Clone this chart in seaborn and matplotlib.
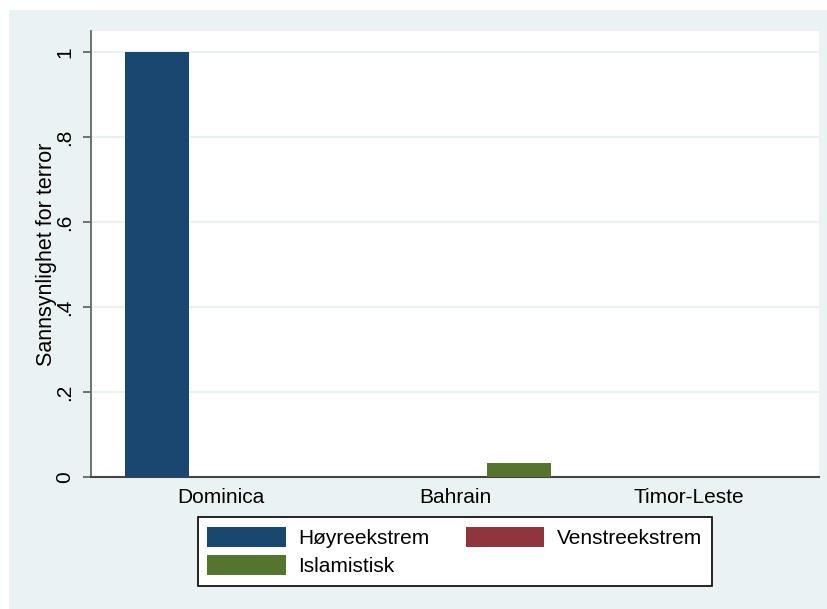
import matplotlib
matplotlib.use("Agg")
import matplotlib.pyplot as plt
from matplotlib.patches import Rectangle
import pandas as pd
import seaborn as sns

# Predicted probability of terror by country and type
countries = ["Dominica", "Bahrain", "Timor-Leste"]
types = ["Høyreekstrem", "Venstreekstrem", "Islamistisk"]
hoyre = [1.0, 0.0, 0.0]
venstre = [0.0, 0.0, 0.0]
islamistisk = [0.0, 0.033, 0.0]
yticks = [0, 0.2, 0.4, 0.6, 0.8, 1.0]
yticklabels = ["0", ".2", ".4", ".6", ".8", "1"]

colors = ["#1a476f", "#90353b", "#55752f"]
bg = "#eaf2f3"

rows = []
for i, c in enumerate(countries):
    for t, vals in zip(types, [hoyre, venstre, islamistisk]):
        rows.append({"land": c, "type": t, "p": vals[i]})
df = pd.DataFrame(rows)

sns.set_style("white")
plt.rcParams["font.family"] = ["Liberation Sans", "DejaVu Sans"]
plt.rcParams.update({"text.color": "black", "axes.labelcolor": "black",
                     "xtick.color": "black", "ytick.color": "black"})

W, H = 828, 609
fig = plt.figure(figsize=(W / 100, H / 100), dpi=100, facecolor="white")
fig.patches.append(Rectangle((9 / W, 0), 1 - 9 / W, (H - 10) / H,
                             transform=fig.transFigure, facecolor=bg,
                             edgecolor="none", zorder=-10))

ax = fig.add_axes([91 / W, (H - 477) / H, (819 - 91) / W, (477 - 31) / H])
ax.set_facecolor("white")

sns.barplot(data=df, x="land", y="p", hue="type", hue_order=types,
            order=countries, palette=colors, saturation=1, width=0.82,
            linewidth=0, errorbar=None, ax=ax, legend=False, zorder=3)

ax.set_xlim(-0.554, 2.554)
ax.set_ylim(0, (477 - 31) / 425)
ax.set_yticks(yticks)
ax.set_yticklabels(yticklabels, rotation=90, va="center", fontsize=15)
ax.yaxis.grid(True, color=bg, linewidth=1.5, zorder=0)
ax.set_axisbelow(True)
ax.tick_params(axis="y", length=6, width=1.3, color="#666666", labelcolor="black",
               pad=6, left=True)
ax.tick_params(axis="x", length=0, pad=8, labelsize=15, labelcolor="black")
ax.set_xlabel("")
ax.set_ylabel("Sannsynlighet for terror", fontsize=15.5, labelpad=-1)

for s in ["top", "right"]:
    ax.spines[s].set_visible(False)
ax.spines["left"].set_color("#666666")
ax.spines["left"].set_linewidth(1.3)
ax.spines["bottom"].set_color("#444444")
ax.spines["bottom"].set_linewidth(1.5)

# legend filled row by row: Høyre, Venstre / Islamistisk
patches = {t: Rectangle((0, 0), 1, 1, facecolor=c, edgecolor="none")
           for t, c in zip(types, colors)}
order = [types[0], types[2], types[1]]
leg = fig.legend([patches[t] for t in order], order, loc="center",
                 bbox_to_anchor=((194 + 716) / 2 / W, 1 - (518 + 585) / 2 / H),
                 ncol=2, frameon=True, fancybox=False, fontsize=15,
                 handlelength=3.75, handleheight=1.1, handletextpad=0.62,
                 columnspacing=1.75, labelspacing=0.35, borderpad=0.45,
                 framealpha=1)
leg.get_frame().set_edgecolor("black")
leg.get_frame().set_linewidth(1.2)
leg.get_frame().set_facecolor("white")

fig.savefig("out.png", dpi=100, facecolor=fig.get_facecolor())
